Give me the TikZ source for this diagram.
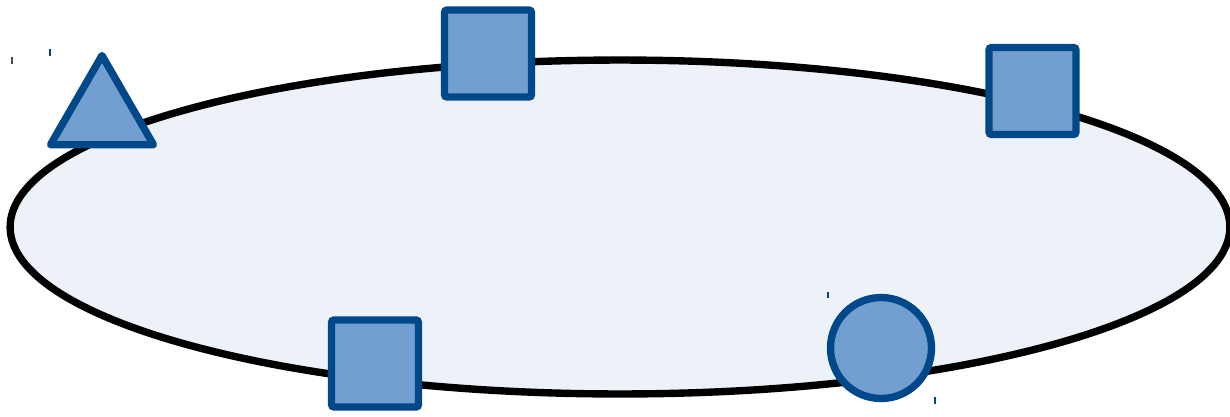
\documentclass[tikz,border=0pt]{standalone}
\usetikzlibrary{shapes.geometric}
\definecolor{blueline}{HTML}{00488A}
\definecolor{bluefill}{HTML}{729FCF}
\definecolor{ringfill}{HTML}{EDF2F9}
\tikzset{
  member/.style={draw=blueline, fill=bluefill, line width=4.2pt, inner sep=0pt},
  sqbox/.style={member, rectangle, rounded corners=1.5pt, minimum size=1.74cm},
  tick/.style={blueline, line width=0.6pt}
}
\begin{document}
\begin{tikzpicture}[x=0.02cm, y=-0.02cm]
        \useasboundingbox (0,0) rectangle (1230,416);
        % Ring
        \node (ring) [ellipse, draw=black, fill=ringfill, line width=4.2pt,
          minimum width=24.4cm, minimum height=6.68cm] at (620,227) {};

        % Members
        \node (tri) [member, regular polygon, regular polygon sides=3,
          minimum size=2.38cm, line join=round] at (102,115) {};
        \node (sqa) [sqbox] at (488,53.5) {};
        \node (sqb) [sqbox] at (1032.5,91) {};
        \node (sqc) [sqbox] at (375,363.5) {};
        \node (dot) [member, circle, minimum size=2.02cm] at (881,348) {};

        % Small marks
        \draw [tick, black!70] (12,57) -- (12,64);
        \draw [tick] (50,49) -- (50,56);
        \draw [tick] (828,292) -- (828,298);
        \draw [tick] (935,397) -- (935,404);
\end{tikzpicture}
\end{document}
